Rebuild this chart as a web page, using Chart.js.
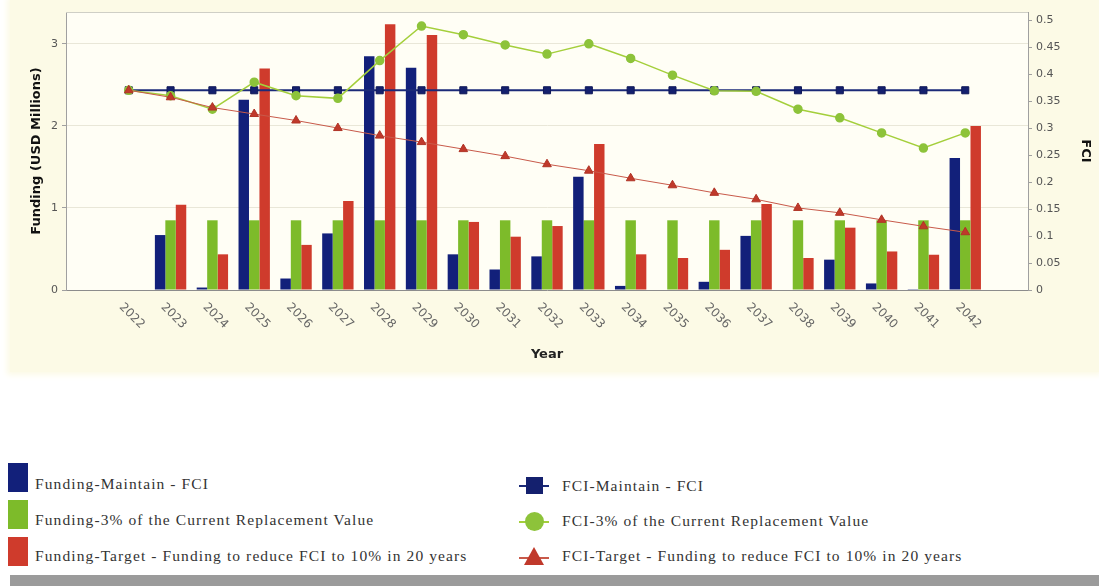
<!DOCTYPE html>
<html>
<head>
<meta charset="utf-8">
<script src="https://cdn.jsdelivr.net/npm/chart.js@4.4.1/dist/chart.umd.min.js"></script>
<style>
  body { margin: 0; width: 1099px; height: 586px; background: #fff; position: relative; overflow: hidden; }
  #panel { position: absolute; left: 10px; top: 0; width: 1089px; height: 372px; background: #fcfae6; box-shadow: 0 0 6px 3px #fcfae6; }
  #chartBox { position: absolute; left: 0; top: 0; width: 1099px; height: 380px; }
  #shade { position: absolute; left: 10px; top: 575px; width: 1089px; height: 11px; background: #9b9b9b; }
  .leg { position: absolute; font-family: "Liberation Serif", "Times New Roman", serif; font-size: 15.5px; letter-spacing: 1.1px; color: #333; white-space: nowrap; line-height: 18px; }
  .sw { position: absolute; width: 20px; height: 29px; }
  .mk { position: absolute; width: 30px; height: 18px; }
  .mk .ln { position: absolute; left: 0; top: 8px; width: 30px; height: 2px; }
</style>
</head>
<body>
<div id="panel"></div>
<div id="chartBox"><canvas id="chart"></canvas></div>

<!-- legend, two columns -->
<div class="sw" style="left:8px;top:463px;background:#12207a"></div>
<div class="leg" style="left:35px;top:475px">Funding-Maintain - FCI</div>
<div class="sw" style="left:8px;top:500px;background:#7dbb2a"></div>
<div class="leg" style="left:35px;top:511px">Funding-3% of the Current Replacement Value</div>
<div class="sw" style="left:8px;top:537px;background:#cf3b2c"></div>
<div class="leg" style="left:35px;top:547px">Funding-Target - Funding to reduce FCI to 10% in 20 years</div>

<div class="mk" style="left:519px;top:477px"><div class="ln" style="background:#1b2a78"></div><div style="position:absolute;left:7px;top:0;width:17px;height:17px;background:#14206e"></div></div>
<div class="leg" style="left:562px;top:477px">FCI-Maintain - FCI</div>
<div class="mk" style="left:519px;top:513px"><div class="ln" style="background:#a4cf3b"></div><div style="position:absolute;left:6px;top:-1px;width:19px;height:19px;border-radius:50%;background:#8dc33a"></div></div>
<div class="leg" style="left:562px;top:512px">FCI-3% of the Current Replacement Value</div>
<div class="mk" style="left:519px;top:549px"><div class="ln" style="background:#c85a4a"></div><div style="position:absolute;left:5px;top:-2px;width:0;height:0;border-left:10px solid transparent;border-right:10px solid transparent;border-bottom:18px solid #c0392b"></div></div>
<div class="leg" style="left:562px;top:547px">FCI-Target - Funding to reduce FCI to 10% in 20 years</div>

<div id="shade"></div>

<script>
const years = ['2022', '2023', '2024', '2025', '2026', '2027', '2028', '2029', '2030', '2031', '2032',
    '2033', '2034', '2035', '2036', '2037', '2038', '2039', '2040', '2041', '2042']

// funding, USD millions (left axis)
const fundingMaintain = [0, 0.67, 0.03, 2.32, 0.14, 0.69, 2.85, 2.71, 0.435, 0.25, 0.41,
    1.38, 0.05, 0, 0.10, 0.66, 0, 0.37, 0.08, 0.01, 1.61]
const fundingCrv = [0, 0.85, 0.85, 0.85, 0.85, 0.85, 0.85, 0.85, 0.85, 0.85, 0.85,
    0.85, 0.85, 0.85, 0.85, 0.85, 0.85, 0.85, 0.85, 0.85, 0.85]
const fundingTarget = [0, 1.04, 0.435, 2.70, 0.55, 1.085, 3.24, 3.11, 0.83, 0.65, 0.78,
    1.78, 0.435, 0.39, 0.49, 1.05, 0.39, 0.76, 0.47, 0.43, 2.0]

// FCI (right axis)
const fciMaintain = [0.37, 0.37, 0.37, 0.37, 0.37, 0.37, 0.37, 0.37, 0.37, 0.37, 0.37,
    0.37, 0.37, 0.37, 0.37, 0.37, 0.37, 0.37, 0.37, 0.37, 0.37]
const fciCrv = [0.37, 0.36, 0.335, 0.385, 0.36, 0.355, 0.425, 0.489, 0.473, 0.454, 0.437,
    0.456, 0.429, 0.398, 0.369, 0.368, 0.335, 0.319, 0.291, 0.263, 0.291]
const fciTarget = [0.37, 0.357, 0.338, 0.326, 0.314, 0.300, 0.286, 0.274, 0.261, 0.248, 0.233,
    0.221, 0.207, 0.194, 0.180, 0.168, 0.152, 0.143, 0.130, 0.118, 0.107]

const fundingTicks = [0, 1, 2, 3]
const fciTicks = [0, 0.05, 0.1, 0.15, 0.2, 0.25, 0.3, 0.35, 0.4, 0.45, 0.5]

// one empty slot on each side of the years
const labels = [''].concat(years, [''])
function padded(arr) {
    return [null].concat(arr, [null])
}

const W = 1099
const H = 380
const plotLeft = 66
const plotRight = 1028
const plotBottom = 290
const sans = '"DejaVu Sans", Verdana, sans-serif'

const plotBackground = {
    id: 'plotBackground',
    beforeDraw(chart) {
        const {ctx, chartArea} = chart
        ctx.save()
        ctx.fillStyle = '#fffef5'
        ctx.fillRect(chartArea.left, chartArea.top, chartArea.right - chartArea.left, chartArea.bottom - chartArea.top)
        ctx.restore()
    },
    afterDraw(chart) {
        const {ctx, chartArea} = chart
        ctx.save()
        ctx.strokeStyle = '#cfcfc6'
        ctx.lineWidth = 1
        ctx.beginPath()
        ctx.moveTo(chartArea.left, chartArea.top + 0.5)
        ctx.lineTo(chartArea.right, chartArea.top + 0.5)
        ctx.stroke()
        ctx.restore()
    }
}

// year labels run downward to the right
const yearLabels = {
    id: 'yearLabels',
    afterDraw(chart) {
        const {ctx} = chart
        const x = chart.scales.x
        ctx.save()
        ctx.font = '12px ' + sans
        ctx.fillStyle = '#666'
        ctx.textAlign = 'center'
        ctx.textBaseline = 'middle'
        chart.data.labels.forEach((lab, i) => {
            if (!lab) return
            const px = x.getPixelForTick(i)
            ctx.save()
            ctx.translate(px + 3, x.top + 26)
            ctx.rotate(Math.PI / 4)
            ctx.fillText(lab, 0, 0)
            ctx.restore()
        })
        ctx.restore()
    }
}

const barStyle = {
    type: 'bar',
    yAxisID: 'y',
    order: 3,
    categoryPercentage: 0.75,
    barPercentage: 1.0,
    borderWidth: 0
}

const config = {
    type: 'bar',
    data: {
        labels: labels,
        datasets: [{
            ...barStyle,
            label: 'Funding-Maintain - FCI',
            data: padded(fundingMaintain),
            backgroundColor: '#12207a'
        }, {
            ...barStyle,
            label: 'Funding-3% of the Current Replacement Value',
            data: padded(fundingCrv),
            backgroundColor: '#7dbb2a'
        }, {
            ...barStyle,
            label: 'Funding-Target - Funding to reduce FCI to 10% in 20 years',
            data: padded(fundingTarget),
            backgroundColor: '#cf3b2c'
        }, {
            type: 'line',
            label: 'FCI-Maintain - FCI',
            yAxisID: 'y1',
            order: 2,
            data: padded(fciMaintain),
            borderColor: '#1b2a78',
            borderWidth: 2,
            pointStyle: 'rect',
            pointRadius: 5,
            pointBackgroundColor: '#14206e',
            pointBorderColor: '#0f1858',
            pointBorderWidth: 1
        }, {
            type: 'line',
            label: 'FCI-3% of the Current Replacement Value',
            yAxisID: 'y1',
            order: 1,
            data: padded(fciCrv),
            borderColor: '#a4cf3b',
            borderWidth: 1.5,
            pointStyle: 'circle',
            pointRadius: 4,
            pointBackgroundColor: '#8dc33a',
            pointBorderColor: '#8dc33a'
        }, {
            type: 'line',
            label: 'FCI-Target - Funding to reduce FCI to 10% in 20 years',
            yAxisID: 'y1',
            order: 0,
            data: padded(fciTarget),
            borderColor: '#c85a4a',
            borderWidth: 1,
            pointStyle: 'triangle',
            pointRadius: 5,
            pointBackgroundColor: '#c0392b',
            pointBorderColor: '#b03426'
        }]
    },
    options: {
        responsive: true,
        maintainAspectRatio: false,
        animation: false,
        layout: { padding: { top: 12, left: 0, right: 0, bottom: 0 } },
        plugins: {
            legend: { display: false },
            tooltip: { enabled: false }
        },
        scales: {
            x: {
                grid: { display: false },
                border: { color: '#8c8c8c' },
                ticks: { display: false },
                title: {
                    display: true,
                    text: 'Year',
                    color: '#222',
                    font: { family: sans, size: 13, weight: 'bold' },
                    padding: { top: 4, bottom: 18 }
                },
                afterFit(scale) { scale.height = H - plotBottom }
            },
            y: {
                position: 'left',
                min: 0,
                max: 3.39,
                afterBuildTicks(scale) { scale.ticks = fundingTicks.map(v => ({value: v})) },
                grid: { color: '#e9e7d8', tickColor: '#a0a0a0', tickLength: 4 },
                border: { color: '#a0a0a0' },
                ticks: {
                    color: '#555',
                    padding: 4,
                    font: { family: sans, size: 11 }
                },
                title: {
                    display: true,
                    text: 'Funding (USD Millions)',
                    color: '#111',
                    font: { family: sans, size: 13, weight: 'bold' },
                    padding: { top: 29, bottom: 0 }
                },
                afterFit(scale) { scale.width = plotLeft }
            },
            y1: {
                position: 'right',
                min: 0,
                max: 0.515,
                afterBuildTicks(scale) { scale.ticks = fciTicks.map(v => ({value: v})) },
                grid: { drawOnChartArea: false, tickColor: '#a0a0a0', tickLength: 4 },
                border: { color: '#a0a0a0' },
                ticks: {
                    color: '#555',
                    padding: 4,
                    font: { family: sans, size: 11 },
                    callback: v => String(+v.toFixed(2))
                },
                title: {
                    display: true,
                    text: 'FCI',
                    color: '#111',
                    font: { family: sans, size: 13, weight: 'bold' },
                    padding: { top: 6, bottom: 0 }
                },
                afterFit(scale) { scale.width = W - plotRight }
            }
        }
    },
    plugins: [plotBackground, yearLabels]
}

chart = new Chart(document.getElementById('chart'), config)
</script>
</body>
</html>
